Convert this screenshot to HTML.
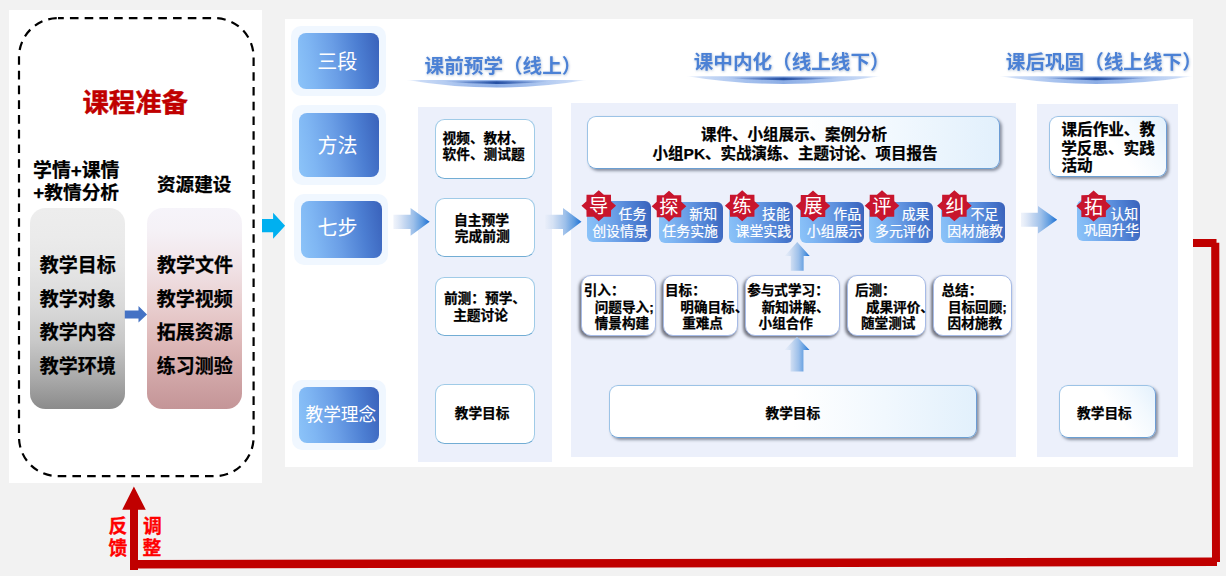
<!DOCTYPE html>
<html lang="zh-CN">
<head>
<meta charset="utf-8">
<title>三段七步教学模式</title>
<style>
html,body{margin:0;padding:0}
body{width:1226px;height:576px;overflow:hidden;background:#f2f2f2;position:relative;font-family:"Liberation Sans","Noto Sans CJK SC",sans-serif}
.a{position:absolute}
svg.o{position:absolute;left:0;top:0;width:1226px;height:576px;overflow:visible}
svg.o text{font-family:"Liberation Sans","Noto Sans CJK SC",sans-serif;white-space:pre}
svg.o text.bk{fill:#000;stroke:#000;stroke-width:.25px;stroke-linejoin:round;font-weight:700}
svg.o text.rd{fill:#c00000;stroke:#c00000;stroke-width:.42px;stroke-linejoin:round;font-weight:700}
svg.o text.fr{fill:#ff0000;stroke:#ff0000;stroke-width:.3px;stroke-linejoin:round;font-weight:700}
svg.o text.wr{fill:#fff;font-weight:400}
svg.o text.ws{fill:#fff;stroke:#fff;stroke-width:.19px;stroke-linejoin:round;font-weight:400}
svg.o text.hd{fill:#4c81d5;font-weight:700}
</style>
</head>
<body>
<div class="a" style="left:9px;top:10px;width:253px;height:473px;background:#fff"></div>
<div class="a" style="left:285px;top:19px;width:908px;height:448px;background:#fff"></div>
<div class="a" style="left:418px;top:107px;width:134.2px;height:355px;background:#ecf0fb"></div>
<div class="a" style="left:570.7px;top:103px;width:445.6px;height:354px;background:#ecf0fb"></div>
<div class="a" style="left:1037.2px;top:104px;width:140.8px;height:353px;background:#ecf0fb"></div>
<div class="a" style="left:30.2px;top:208.4px;width:94.8px;height:200.8px;border-radius:15.5px;background:linear-gradient(180deg,#ededed 0%,#ebebeb 14%,#e6e6e6 28%,#dadada 48%,#c9c9c9 66%,#a9a9a9 85%,#8b8b8b 100%)"></div>
<div class="a" style="left:147px;top:208.4px;width:94.8px;height:200.8px;border-radius:15.5px;background:linear-gradient(180deg,#f6f4fa 0%,#f5f1f6 12%,#f1e4e8 28%,#e9cfd0 48%,#dfbaba 66%,#d0a5a6 85%,#c49597 100%)"></div>
<div class="a" style="left:290.8px;top:25.8px;width:94.8px;height:70.5px;border-radius:10px;background:#f0f7ff"></div>
<div class="a" style="left:297.9px;top:32.7px;width:80.7px;height:56.6px;border-radius:8px;background:linear-gradient(80deg,#8cc4f9 0%,#7fb6f3 20%,#6a9ee6 46%,#4c7ed2 74%,#3961ba 100%)"></div>
<div class="a" style="left:292.2px;top:105.4px;width:93.7px;height:79.9px;border-radius:10px;background:#f0f7ff"></div>
<div class="a" style="left:298.8px;top:112.9px;width:80.2px;height:64.1px;border-radius:8px;background:linear-gradient(80deg,#8cc4f9 0%,#7fb6f3 20%,#6a9ee6 46%,#4c7ed2 74%,#3961ba 100%)"></div>
<div class="a" style="left:294.2px;top:194.2px;width:94.3px;height:70.4px;border-radius:10px;background:#f0f7ff"></div>
<div class="a" style="left:301.2px;top:201.2px;width:80.4px;height:56.4px;border-radius:8px;background:linear-gradient(80deg,#8cc4f9 0%,#7fb6f3 20%,#6a9ee6 46%,#4c7ed2 74%,#3961ba 100%)"></div>
<div class="a" style="left:292.2px;top:380.1px;width:93.7px;height:70.1px;border-radius:10px;background:#f0f7ff"></div>
<div class="a" style="left:298.8px;top:386.5px;width:80.2px;height:56.4px;border-radius:8px;background:linear-gradient(80deg,#8cc4f9 0%,#7fb6f3 20%,#6a9ee6 46%,#4c7ed2 74%,#3961ba 100%)"></div>
<div class="a" style="left:435px;top:119.1px;width:100.3px;height:59.7px;border-radius:9.5px;background:#fff;border:1.8px solid #a0cbe7;box-sizing:border-box;border-bottom-color:#72add4"></div>
<div class="a" style="left:435px;top:198.3px;width:100.3px;height:58.8px;border-radius:9.5px;background:#fff;border:1.8px solid #a0cbe7;box-sizing:border-box;border-bottom-color:#72add4"></div>
<div class="a" style="left:435px;top:277.1px;width:100.3px;height:59.4px;border-radius:9.5px;background:#fff;border:1.8px solid #a0cbe7;box-sizing:border-box;border-bottom-color:#72add4"></div>
<div class="a" style="left:435px;top:384.3px;width:100.3px;height:59.3px;border-radius:9.5px;background:#fff;border:1.8px solid #a0cbe7;box-sizing:border-box;border-bottom-color:#72add4"></div>
<div class="a" style="left:586.9px;top:115.8px;width:413.1px;height:53.1px;border-radius:9px;box-sizing:border-box;border:1.4px solid #9cc3e6;border-right-color:#6b9bd3;border-bottom-color:#6b9fd2;box-shadow:2px 2px 3px rgba(60,70,90,.55);background:linear-gradient(90deg,#fff 0%,#fff 50%,#f1f8fe 75%,#e2f0fc 100%)"></div>
<div class="a" style="left:608.5px;top:384.6px;width:368.5px;height:53.3px;border-radius:9px;box-sizing:border-box;border:1.4px solid #9cc3e6;border-right-color:#6b9bd3;border-bottom-color:#6b9fd2;box-shadow:2px 2px 3px rgba(60,70,90,.55);background:linear-gradient(90deg,#fff 0%,#fff 50%,#f1f8fe 75%,#e2f0fc 100%)"></div>
<div class="a" style="left:1049.1px;top:115.6px;width:118.4px;height:61.7px;border-radius:9px;box-sizing:border-box;border:1.4px solid #9cc3e6;border-right-color:#6b9bd3;border-bottom-color:#6b9fd2;box-shadow:2px 2px 3px rgba(60,70,90,.55);background:linear-gradient(55deg,#fff 0%,#fff 55%,#f3f9fe 78%,#e3f1fc 100%)"></div>
<div class="a" style="left:1059px;top:384.5px;width:96.7px;height:53.3px;border-radius:9px;box-sizing:border-box;border:1.4px solid #9cc3e6;border-right-color:#6b9bd3;border-bottom-color:#6b9fd2;box-shadow:2px 2px 3px rgba(60,70,90,.55);background:linear-gradient(55deg,#fff 0%,#fff 55%,#f3f9fe 78%,#e3f1fc 100%)"></div>
<div class="a" style="left:580.7px;top:275.2px;width:75.5px;height:61.3px;border-radius:10px;box-sizing:border-box;background:#fff;border:1.5px solid #a6bbe7;box-shadow:-1.5px 2px 3px rgba(40,42,55,.62);"></div>
<div class="a" style="left:662.8px;top:275.2px;width:75.3px;height:61.3px;border-radius:10px;box-sizing:border-box;background:#fff;border:1.5px solid #a6bbe7;box-shadow:-1.5px 2px 3px rgba(40,42,55,.62);"></div>
<div class="a" style="left:744.6px;top:275.2px;width:95px;height:61.3px;border-radius:10px;box-sizing:border-box;background:#fff;border:1.5px solid #a6bbe7;box-shadow:-1.5px 2px 3px rgba(40,42,55,.62);"></div>
<div class="a" style="left:846.8px;top:275.2px;width:79px;height:61.3px;border-radius:10px;box-sizing:border-box;background:#fff;border:1.5px solid #a6bbe7;box-shadow:-1.5px 2px 3px rgba(40,42,55,.62);"></div>
<div class="a" style="left:933.2px;top:275.2px;width:79px;height:61.3px;border-radius:10px;box-sizing:border-box;background:#fff;border:1.5px solid #a6bbe7;box-shadow:-1.5px 2px 3px rgba(40,42,55,.62);"></div>
<div class="a" style="left:587px;top:201.4px;width:63.9px;height:40.6px;border-radius:6px;background:linear-gradient(80deg,#8cc4f9 0%,#7fb6f3 20%,#6a9ee6 46%,#4c7ed2 74%,#3961ba 100%)"></div>
<div class="a" style="left:658.75px;top:202px;width:63.85px;height:40.9px;border-radius:6px;background:linear-gradient(80deg,#8cc4f9 0%,#7fb6f3 20%,#6a9ee6 46%,#4c7ed2 74%,#3961ba 100%)"></div>
<div class="a" style="left:729.4px;top:202px;width:63.6px;height:40.9px;border-radius:6px;background:linear-gradient(80deg,#8cc4f9 0%,#7fb6f3 20%,#6a9ee6 46%,#4c7ed2 74%,#3961ba 100%)"></div>
<div class="a" style="left:800px;top:202px;width:64px;height:40.9px;border-radius:6px;background:linear-gradient(80deg,#8cc4f9 0%,#7fb6f3 20%,#6a9ee6 46%,#4c7ed2 74%,#3961ba 100%)"></div>
<div class="a" style="left:868.75px;top:202px;width:63.75px;height:40.9px;border-radius:6px;background:linear-gradient(80deg,#8cc4f9 0%,#7fb6f3 20%,#6a9ee6 46%,#4c7ed2 74%,#3961ba 100%)"></div>
<div class="a" style="left:941px;top:202px;width:64px;height:40.9px;border-radius:6px;background:linear-gradient(80deg,#8cc4f9 0%,#7fb6f3 20%,#6a9ee6 46%,#4c7ed2 74%,#3961ba 100%)"></div>
<div class="a" style="left:1076.9px;top:200.2px;width:63.1px;height:40.9px;border-radius:6px;background:linear-gradient(80deg,#8cc4f9 0%,#7fb6f3 20%,#6a9ee6 46%,#4c7ed2 74%,#3961ba 100%)"></div>
<svg class="o" width="1226" height="576" viewBox="0 0 1226 576">
<defs>
<linearGradient id="ga" gradientUnits="userSpaceOnUse" x1="393.4" y1="0" x2="429.7" y2="0"><stop offset="0" stop-color="#e6ecf8" stop-opacity=".6"/><stop offset=".3" stop-color="#c6d8f1"/><stop offset=".55" stop-color="#9dc0ea"/><stop offset=".8" stop-color="#5d9be0"/><stop offset="1" stop-color="#1c6fd3"/></linearGradient>
<linearGradient id="gb" gradientUnits="userSpaceOnUse" x1="545.2" y1="0" x2="581.5" y2="0"><stop offset="0" stop-color="#e6ecf8" stop-opacity=".6"/><stop offset=".3" stop-color="#c6d8f1"/><stop offset=".55" stop-color="#9dc0ea"/><stop offset=".8" stop-color="#5d9be0"/><stop offset="1" stop-color="#1c6fd3"/></linearGradient>
<linearGradient id="gc" gradientUnits="userSpaceOnUse" x1="1021" y1="0" x2="1057.2" y2="0"><stop offset="0" stop-color="#e6ecf8" stop-opacity=".6"/><stop offset=".3" stop-color="#c6d8f1"/><stop offset=".55" stop-color="#9dc0ea"/><stop offset=".8" stop-color="#5d9be0"/><stop offset="1" stop-color="#1c6fd3"/></linearGradient>
<linearGradient id="gd" gradientUnits="userSpaceOnUse" x1="784.6" y1="0" x2="810" y2="0"><stop offset="0" stop-color="#e6ecf8" stop-opacity=".6"/><stop offset=".3" stop-color="#c6d8f1"/><stop offset=".55" stop-color="#9dc0ea"/><stop offset=".8" stop-color="#5d9be0"/><stop offset="1" stop-color="#1c6fd3"/></linearGradient>
<filter id="ub" x="-5%" y="-50%" width="110%" height="200%"><feGaussianBlur stdDeviation="0.45"/></filter>
<filter id="ts" x="-5%" y="-30%" width="110%" height="170%"><feDropShadow dx="0.5" dy="0.8" stdDeviation="0.8" flood-color="#1f3f7a" flood-opacity=".32"/></filter>
<linearGradient id="uo" x1="0" y1="0" x2="1" y2="0"><stop offset="0" stop-color="#8fb3ee" stop-opacity=".1"/><stop offset=".08" stop-color="#86acea" stop-opacity=".45"/><stop offset=".3" stop-color="#6f9be3" stop-opacity=".62"/><stop offset=".5" stop-color="#5f8ddb" stop-opacity=".72"/><stop offset=".7" stop-color="#6f9be3" stop-opacity=".62"/><stop offset=".92" stop-color="#86acea" stop-opacity=".45"/><stop offset="1" stop-color="#8fb3ee" stop-opacity=".1"/></linearGradient>
<linearGradient id="ui" x1="0" y1="0" x2="1" y2="0"><stop offset="0" stop-color="#2b59ad" stop-opacity="0"/><stop offset=".25" stop-color="#2853a8" stop-opacity=".5"/><stop offset=".5" stop-color="#1f4a9e" stop-opacity=".95"/><stop offset=".75" stop-color="#2853a8" stop-opacity=".5"/><stop offset="1" stop-color="#2b59ad" stop-opacity="0"/></linearGradient>
</defs>
<rect x="19" y="18.1" width="234.6" height="458.1" rx="39" ry="39" fill="none" stroke="#000" stroke-width="2.2" stroke-dasharray="8.6 6.13" stroke-dashoffset="2.8"/>
<g filter="url(#ub)"><path d="M407 80 L586 80 Q496.5 95.2 407 80 Z" fill="url(#uo)"/><path d="M442.8 81.6 Q496.5 81 550.2 81.6 Q496.5 86.4 442.8 81.6 Z" fill="url(#ui)"/><path d="M687 76.2 L880 76.2 Q783.5 91.8 687 76.2 Z" fill="url(#uo)"/><path d="M725.6 77.8 Q783.5 77.2 841.4 77.8 Q783.5 82.6 725.6 77.8 Z" fill="url(#ui)"/><path d="M1000 76.2 L1192 76.2 Q1096 91.8 1000 76.2 Z" fill="url(#uo)"/><path d="M1038.4 77.8 Q1096 77.2 1153.6 77.8 Q1096 82.6 1038.4 77.8 Z" fill="url(#ui)"/></g>
<polygon points="393.4,214.7 410.6,214.7 410.6,207.9 429.7,221.8 410.6,235.7 410.6,228.9 393.4,228.9" fill="url(#ga)"/>
<polygon points="545.2,214.7 563,214.7 563,207.9 581.5,221.8 563,235.7 563,228.9 545.2,228.9" fill="url(#gb)"/>
<polygon points="1021,212.8 1038,212.8 1038,206 1057.2,219.8 1038,233.6 1038,226.8 1021,226.8" fill="url(#gc)"/>
<polygon points="797.2,241.9 809.7,255.9 803.65,255.9 803.65,270.8 790.75,270.8 790.75,255.9 784.7,255.9" fill="url(#gd)"/>
<polygon points="797,336.8 809.5,350 803.45,350 803.45,371.6 790.55,371.6 790.55,350 784.5,350" fill="url(#gd)"/>
<polygon points="124.8,310.4 138.5,310.4 138.5,306.1 147,314.4 138.5,322.6 138.5,318.6 124.8,318.6" fill="#4472c4"/>
<polygon points="262,219 273.1,219 273.1,212.7 285.1,225.7 273.1,238.75 273.1,232.2 262,232.2" fill="#00b0f0"/>
<polygon points="1193,239 1216.5,239 1216.5,242.7 1219.3,242.7 1220,562 1217,562 1217,566.1 138,568.6 138,570 130,570 130,509.7 122.2,509.7 133.9,486.6 145.8,509.7 138,509.7 138,560.1 1212,557.6 1211.2,247 1193,247" fill="#c00000"/>
<polygon points="598.75,190.2 603.85,194.67 610.98,194.74 611.06,201.13 616.05,205.7 611.06,210.27 610.98,216.66 603.85,216.73 598.75,221.2 593.65,216.73 586.52,216.66 586.44,210.27 581.45,205.7 586.44,201.13 586.52,194.74 593.65,194.67" fill="#c8152d"/>
<polygon points="669,190.7 674.1,195.17 681.23,195.24 681.31,201.63 686.3,206.2 681.31,210.77 681.23,217.16 674.1,217.23 669,221.7 663.9,217.23 656.77,217.16 656.69,210.77 651.7,206.2 656.69,201.63 656.77,195.24 663.9,195.17" fill="#c8152d"/>
<polygon points="742.2,190.3 747.3,194.77 754.43,194.84 754.51,201.23 759.5,205.8 754.51,210.37 754.43,216.76 747.3,216.83 742.2,221.3 737.1,216.83 729.97,216.76 729.89,210.37 724.9,205.8 729.89,201.23 729.97,194.84 737.1,194.77" fill="#c8152d"/>
<polygon points="813,190.5 818.1,194.97 825.23,195.04 825.31,201.43 830.3,206 825.31,210.57 825.23,216.96 818.1,217.03 813,221.5 807.9,217.03 800.77,216.96 800.69,210.57 795.7,206 800.69,201.43 800.77,195.04 807.9,194.97" fill="#c8152d"/>
<polygon points="882,190.3 887.1,194.77 894.23,194.84 894.31,201.23 899.3,205.8 894.31,210.37 894.23,216.76 887.1,216.83 882,221.3 876.9,216.83 869.77,216.76 869.69,210.37 864.7,205.8 869.69,201.23 869.77,194.84 876.9,194.77" fill="#c8152d"/>
<polygon points="954.4,190.3 959.5,194.77 966.63,194.84 966.71,201.23 971.7,205.8 966.71,210.37 966.63,216.76 959.5,216.83 954.4,221.3 949.3,216.83 942.17,216.76 942.09,210.37 937.1,205.8 942.09,201.23 942.17,194.84 949.3,194.77" fill="#c8152d"/>
<polygon points="1093.6,190.6 1098.7,195.07 1105.83,195.14 1105.91,201.53 1110.9,206.1 1105.91,210.67 1105.83,217.06 1098.7,217.13 1093.6,221.6 1088.5,217.13 1081.37,217.06 1081.29,210.67 1076.3,206.1 1081.29,201.53 1081.37,195.14 1088.5,195.07" fill="#c8152d"/>
<text class="rd" x="82.42" y="111.5" font-size="26.4">课程准备</text>
<text class="bk" x="33.08" y="176.77" font-size="18.85">学情+课情</text>
<text class="bk" x="33.37" y="198.91" font-size="18.7">+教情分析</text>
<text class="bk" x="156.98" y="190.57" font-size="18.6">资源建设</text>
<text class="bk" x="39.74" y="271.52" font-size="19">教学目标</text>
<text class="bk" x="156.91" y="271.52" font-size="19">教学文件</text>
<text class="bk" x="39.79" y="305.52" font-size="19">教学对象</text>
<text class="bk" x="156.81" y="305.52" font-size="19">教学视频</text>
<text class="bk" x="39.76" y="339.32" font-size="19">教学内容</text>
<text class="bk" x="156.66" y="339.32" font-size="19">拓展资源</text>
<text class="bk" x="39.84" y="372.82" font-size="19">教学环境</text>
<text class="bk" x="156.69" y="372.82" font-size="19">练习测验</text>
<text class="fr" x="108.43" y="532.85" font-size="18.8">反</text>
<text class="fr" x="108.51" y="554.55" font-size="18.8">馈</text>
<text class="fr" x="142.95" y="532.85" font-size="18.8">调</text>
<text class="fr" x="142.6" y="554.55" font-size="18.8">整</text>
<text class="wr" x="317.24" y="69" font-size="20">三段</text>
<text class="wr" x="317.43" y="152.9" font-size="20">方法</text>
<text class="wr" x="317.44" y="235.3" font-size="20">七步</text>
<text class="wr" x="305.44" y="421.44" font-size="17.7">教学理念</text>
<text class="hd" filter="url(#ts)" x="424.61" y="72.65" font-size="19.6">课前预学（线上）</text>
<text class="hd" filter="url(#ts)" x="693.71" y="69.15" font-size="19.6">课中内化（线上线下）</text>
<text class="hd" filter="url(#ts)" x="1005.81" y="69.35" font-size="19.6">课后巩固（线上线下）</text>
<text class="bk" x="442.52" y="143.14" font-size="13.7">视频、教材、</text>
<text class="bk" x="442.54" y="158.94" font-size="13.7">软件、测试题</text>
<text class="bk" x="453.91" y="225.18" font-size="13.8">自主预学</text>
<text class="bk" x="454.73" y="240.78" font-size="13.8">完成前测</text>
<text class="bk" x="443.88" y="303.44" font-size="13.7">前测：预学、</text>
<text class="bk" x="453.13" y="320.14" font-size="13.7">主题讨论</text>
<text class="bk" x="454.71" y="417.64" font-size="13.7">教学目标</text>
<text class="bk" x="700.96" y="139.81" font-size="15.5">课件、小组展示、案例分析</text>
<text class="bk" x="652.56" y="159.01" font-size="15.5">小组PK、实战演练、主题讨论、项目报告</text>
<text class="bk" x="765.47" y="417.64" font-size="13.7">教学目标</text>
<text class="bk" x="1061.45" y="134.75" font-size="15.6">课后作业、教</text>
<text class="bk" x="1061.16" y="153.55" font-size="15.6">学反思、实践</text>
<text class="bk" x="1061.45" y="171.45" font-size="15.6">活动</text>
<text class="bk" x="1077.01" y="417.74" font-size="13.7">教学目标</text>
<text class="bk" x="583.78" y="294.8" font-size="13.6">引入：</text>
<text class="bk" x="594.79" y="312" font-size="13.6">问题导入;</text>
<text class="bk" x="594.77" y="327.6" font-size="13.6">情景构建</text>
<text class="bk" x="664.98" y="294.8" font-size="13.6">目标：</text>
<text class="bk" x="680.31" y="312" font-size="13.6">明确目标、</text>
<text class="bk" x="682.17" y="327.6" font-size="13.6">重难点</text>
<text class="bk" x="747.19" y="294.8" font-size="13.6">参与式学习：</text>
<text class="bk" x="761.65" y="312" font-size="13.6">新知讲解、</text>
<text class="bk" x="758.6" y="327.6" font-size="13.6">小组合作</text>
<text class="bk" x="854.91" y="294.8" font-size="13.6">后测：</text>
<text class="bk" x="865.91" y="312" font-size="13.6">成果评价、</text>
<text class="bk" x="860.96" y="327.6" font-size="13.6">随堂测试</text>
<text class="bk" x="941.48" y="294.8" font-size="13.6">总结：</text>
<text class="bk" x="947.88" y="312" font-size="13.6">目标回顾;</text>
<text class="bk" x="947.62" y="327.6" font-size="13.6">因材施教</text>
<text class="wr" x="589.09" y="213.1" font-size="19.2">导</text>
<text class="ws" x="618.62" y="218.91" font-size="13.9">任务</text>
<text class="ws" x="592.22" y="235.61" font-size="13.9">创设情景</text>
<text class="wr" x="659.35" y="213.6" font-size="19.2">探</text>
<text class="ws" x="689.28" y="219.11" font-size="13.9">新知</text>
<text class="ws" x="662.35" y="236.11" font-size="13.9">任务实施</text>
<text class="wr" x="732.58" y="213.2" font-size="19.2">练</text>
<text class="ws" x="762.05" y="219.11" font-size="13.9">技能</text>
<text class="ws" x="735.58" y="236.11" font-size="13.9">课堂实践</text>
<text class="wr" x="803.48" y="213.4" font-size="19.2">展</text>
<text class="ws" x="833.27" y="219.11" font-size="13.9">作品</text>
<text class="ws" x="806.76" y="236.11" font-size="13.9">小组展示</text>
<text class="wr" x="872.36" y="213.2" font-size="19.2">评</text>
<text class="ws" x="901.69" y="219.11" font-size="13.9">成果</text>
<text class="ws" x="875.04" y="236.11" font-size="13.9">多元评价</text>
<text class="wr" x="945.53" y="213.2" font-size="19.2">纠</text>
<text class="ws" x="970.44" y="219.11" font-size="13.9">不足</text>
<text class="ws" x="947.37" y="236.11" font-size="13.9">因材施教</text>
<text class="wr" x="1084.1" y="213.5" font-size="19.2">拓</text>
<text class="ws" x="1110.46" y="218.51" font-size="13.9">认知</text>
<text class="ws" x="1083.64" y="235.41" font-size="13.9">巩固升华</text>
</svg>
</body>
</html>
